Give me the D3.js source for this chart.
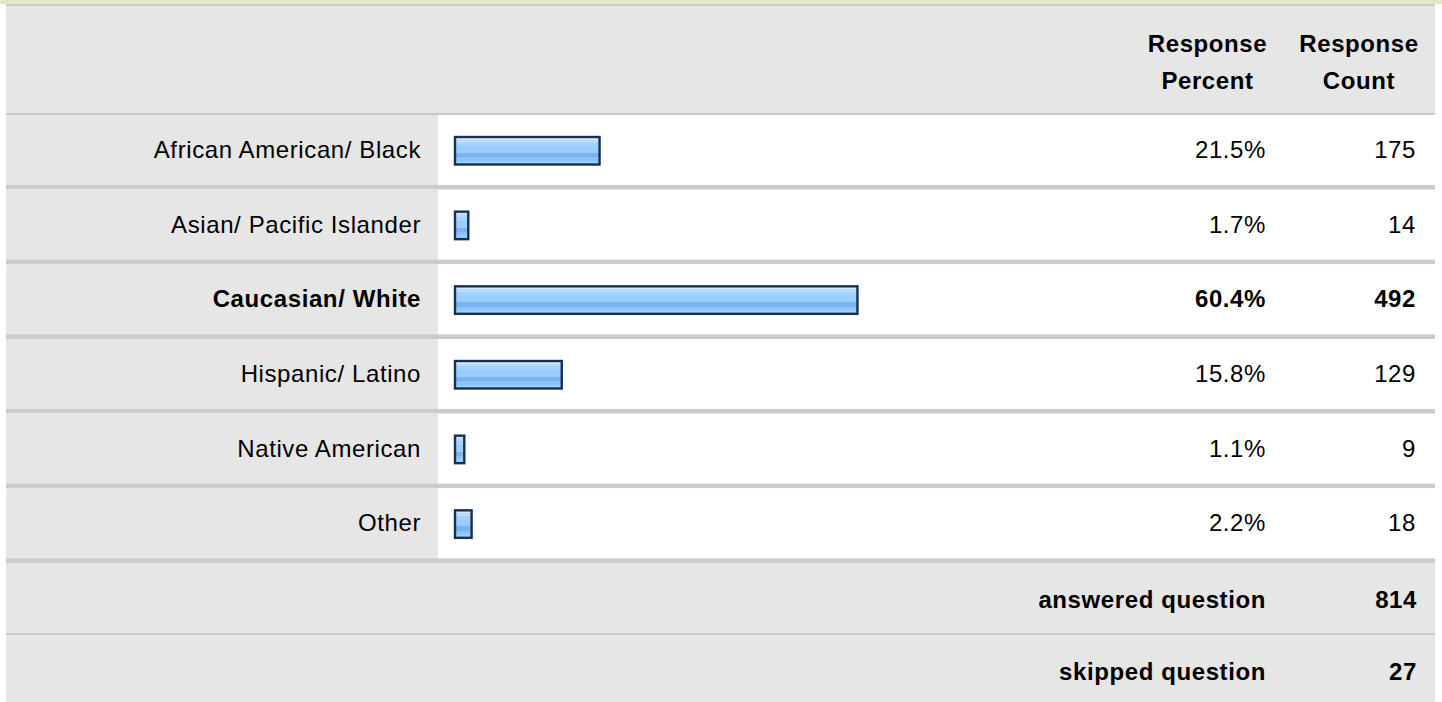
<!DOCTYPE html>
<html>
<head>
<meta charset="utf-8">
<script src="https://cdn.jsdelivr.net/npm/d3@7"></script>
<style>
    body { margin: 0; background: #fff; }
    text { font-family: "Liberation Sans", Arial, sans-serif; font-size: 24px; letter-spacing: 0.6px; fill: #000; }
</style>
</head>
<body>
<script>
'use strict';

var categories = ["African American/ Black", "Asian/ Pacific Islander", "Caucasian/ White",
    "Hispanic/ Latino", "Native American", "Other"];
var percents = [21.5, 1.7, 60.4, 15.8, 1.1, 2.2];
var counts = [175, 14, 492, 129, 9, 18];
var headerLines = [["Response", "Percent"], ["Response", "Count"]];
var summaryLabels = ["answered question", "skipped question"];
var summaryValues = [814, 27];

var width = 1442, height = 702;
var left = 6, right = 1435;
var labelEdge = 438;          // end of grey label column
var pctCol = [1132, 1283];    // percent column
var cntCol = [1283, 1435];    // count column
var barX = 455;

var svg = d3.select("body").append("svg")
    .attr("width", width)
    .attr("height", height);

// bar gradient (striped light blue)
var grad = svg.append("defs").append("linearGradient")
    .attr("id", "barFill")
    .attr("x1", 0).attr("y1", 0).attr("x2", 0).attr("y2", 1);
var stops = [
    [0, "#d4eaff"], [0.1, "#d4eaff"], [0.1, "#b6dbff"], [0.2, "#b6dbff"],
    [0.2, "#a4d2ff"], [0.34, "#a4d2ff"], [0.34, "#99ccff"], [0.58, "#99ccff"],
    [0.58, "#7cb3ef"], [0.74, "#7cb3ef"], [0.74, "#8cc3fb"], [0.86, "#8cc3fb"],
    [0.86, "#9ccdff"], [1, "#9ccdff"]
];
grad.selectAll("stop").data(stops).enter().append("stop")
    .attr("offset", function(d) { return d[0]; })
    .attr("stop-color", function(d) { return d[1]; });

// top strip
svg.append("rect").attr("x", 0).attr("y", 0).attr("width", width).attr("height", 4).attr("fill", "#e5e8c2");
svg.append("rect").attr("x", left).attr("y", 4).attr("width", right - left).attr("height", 2).attr("fill", "#cccccc");

// header
svg.append("rect").attr("x", left).attr("y", 6).attr("width", right - left).attr("height", 107).attr("fill", "#e6e6e6");
svg.append("rect").attr("x", left).attr("y", 113).attr("width", right - left).attr("height", 2).attr("fill", "#c8c8c8");

var headG = svg.append("g").selectAll("g")
    .data(headerLines)
    .enter().append("g")
    .attr("transform", function(d, i) {
        var col = i === 0 ? pctCol : cntCol;
        return "translate(" + (col[0] + col[1]) / 2 + ",0)";
    });
headG.selectAll("text")
    .data(function(d) { return d; })
    .enter().append("text")
    .attr("y", function(d, i) { return 52 + i * 37; })
    .attr("text-anchor", "middle")
    .attr("font-weight", "bold")
    .text(function(d) { return d; });

// rows
var y = d3.scaleBand().domain(categories).range([115, 563]);
var x = d3.scaleLinear().domain([0, 100]).range([0, 663]);
var maxCount = d3.max(counts);

var rows = svg.append("g").selectAll("g")
    .data(categories.map(function(c, i) { return { name: c, pct: percents[i], count: counts[i] }; }))
    .enter().append("g")
    .attr("transform", function(d) { return "translate(0," + y(d.name) + ")"; });

rows.append("rect")
    .attr("x", left).attr("width", right - left)
    .attr("height", y.bandwidth())
    .attr("fill", "#ffffff");
rows.append("rect")
    .attr("x", left).attr("width", labelEdge - left)
    .attr("height", y.bandwidth())
    .attr("fill", "#e6e6e6");
rows.append("rect")
    .attr("x", left).attr("width", right - left)
    .attr("y", y.bandwidth() - 4.7)
    .attr("height", 4.7)
    .attr("fill", "#cccccc");

rows.append("rect")
    .attr("x", barX)
    .attr("y", 22)
    .attr("width", function(d) { return x(d.pct) + 2; })
    .attr("height", 27.5)
    .attr("fill", "url(#barFill)")
    .attr("stroke", "#17304f")
    .attr("stroke-width", 2.4);

function weight(d) { return d.count === maxCount ? "bold" : "normal"; }

rows.append("text")
    .attr("x", 421).attr("y", 43)
    .attr("text-anchor", "end")
    .attr("font-weight", weight)
    .text(function(d) { return d.name; });
rows.append("text")
    .attr("x", 1266).attr("y", 43)
    .attr("text-anchor", "end")
    .attr("font-weight", weight)
    .text(function(d) { return d.pct.toFixed(1) + "%"; });
rows.append("text")
    .attr("x", 1416).attr("y", 43)
    .attr("text-anchor", "end")
    .attr("font-weight", weight)
    .text(function(d) { return d.count; });

// summary rows
var sum = svg.append("g").selectAll("g")
    .data(summaryLabels.map(function(s, i) { return { label: s, value: summaryValues[i] }; }))
    .enter().append("g")
    .attr("transform", function(d, i) { return "translate(0," + (563 + i * 72) + ")"; });

sum.append("rect")
    .attr("x", left).attr("width", right - left)
    .attr("height", 72)
    .attr("fill", "#e6e6e6");
sum.filter(function(d, i) { return i === 0; }).append("rect")
    .attr("x", left).attr("width", right - left)
    .attr("y", 70).attr("height", 2)
    .attr("fill", "#cccccc");
sum.append("text")
    .attr("x", 1266).attr("y", 45)
    .attr("text-anchor", "end")
    .attr("font-weight", "bold")
    .text(function(d) { return d.label; });
sum.append("text")
    .attr("x", 1417).attr("y", 45)
    .attr("text-anchor", "end")
    .attr("font-weight", "bold")
    .text(function(d) { return d.value; });
</script>
</body>
</html>
